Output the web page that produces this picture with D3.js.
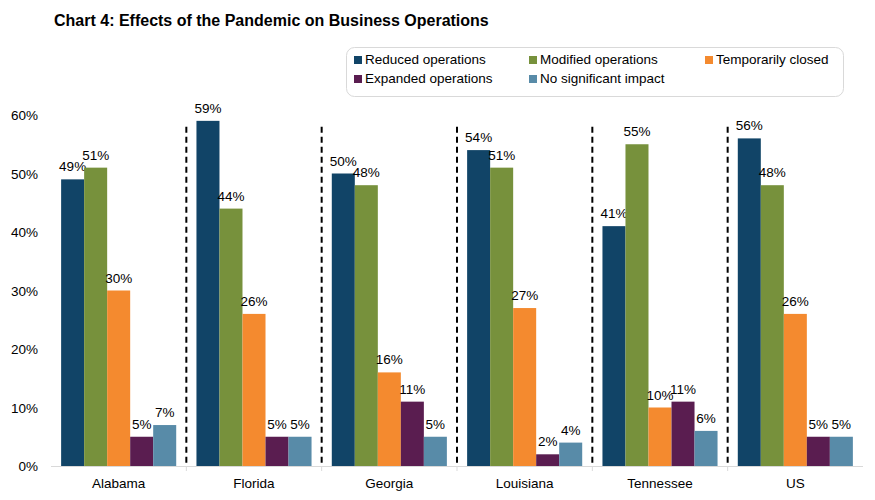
<!DOCTYPE html>
<html><head><meta charset="utf-8">
<script src="https://cdn.jsdelivr.net/npm/d3@7"></script>
<style>body{margin:0;background:#fff;}svg{font-family:Arial,"Liberation Sans",sans-serif;}</style>
</head><body><svg id="c" width="875" height="500"></svg>
<script>
const categories = ["Alabama","Florida","Georgia","Louisiana","Tennessee","US"];
const seriesNames = ["Reduced operations","Modified operations","Temporarily closed","Expanded operations","No significant impact"];
const reduced   = [49,59,50,54,41,56];
const modified  = [51,44,48,51,55,48];
const closed    = [30,26,16,27,10,26];
const expanded  = [5,5,11,2,11,5];
const noImpact  = [7,5,5,4,6,5];
const yTicks = [0,10,20,30,40,50,60];
const colors = ["#114467","#77913c","#f48a2f","#5a1d50","#588ba8"];
const seriesValues = [reduced, modified, closed, expanded, noImpact];

const svg = d3.select("#c");
const x = d3.scaleBand().domain(categories).range([51,863]).paddingInner(0).paddingOuter(0);
const xs = d3.scaleBand().domain(seriesNames).range([0, x.bandwidth()]).paddingOuter(0.44);
const y = d3.scaleLinear().domain([0,60]).range([466,115]);

svg.append("text").attr("x",54).attr("y",26).attr("font-size",16).attr("font-weight","bold").attr("fill","#000")
  .text("Chart 4: Effects of the Pandemic on Business Operations");

// y tick labels
svg.selectAll(".yt").data(yTicks).enter().append("text")
  .attr("x",38).attr("y",d=>y(d)+5).attr("text-anchor","end").attr("font-size",13.5).attr("fill","#000")
  .text(d=>d+"%");

// axis line
svg.append("line").attr("x1",x.range()[0]).attr("x2",x.range()[1]).attr("y1",y(0)+0.5).attr("y2",y(0)+0.5)
  .attr("stroke","#d9d9d9").attr("stroke-width",1);
// small ticks at boundaries
const bounds = categories.slice(1).map(c=>x(c));
svg.selectAll(".xt").data(bounds).enter().append("line")
  .attr("x1",d=>d).attr("x2",d=>d).attr("y1",y(0)).attr("y2",y(0)+5).attr("stroke","#d9d9d9");

// dashed separators
svg.selectAll(".sep").data(bounds).enter().append("line")
  .attr("x1",d=>d).attr("x2",d=>d).attr("y1",y(58)).attr("y2",y(0))
  .attr("stroke","#000").attr("stroke-width",2).attr("stroke-dasharray","6,4");

// bars
const g = svg.selectAll(".grp").data(categories).enter().append("g").attr("transform",c=>`translate(${x(c)},0)`);
seriesNames.forEach((s,si)=>{
  g.append("rect").attr("x",xs(s)).attr("width",xs.bandwidth())
    .attr("y",(c,ci)=>y(seriesValues[si][ci])).attr("height",(c,ci)=>y(0)-y(seriesValues[si][ci]))
    .attr("fill",colors[si]);
  g.append("text").attr("x",xs(s)+xs.bandwidth()/2).attr("y",(c,ci)=>y(seriesValues[si][ci])-8)
    .attr("text-anchor","middle").attr("font-size",13.5).attr("fill","#000")
    .text((c,ci)=>seriesValues[si][ci]+"%");
});

// category labels
svg.selectAll(".cl").data(categories).enter().append("text")
  .attr("x",c=>x(c)+x.bandwidth()/2).attr("y",488).attr("text-anchor","middle").attr("font-size",13.5).attr("fill","#000")
  .text(c=>c);

// legend
svg.append("rect").attr("x",346.5).attr("y",47.5).attr("width",497).attr("height",49).attr("rx",8)
  .attr("fill","#fff").attr("stroke","#d9d9d9");
const legPos = [[354,64],[529,64],[705,64],[354,83],[529,83]];
seriesNames.forEach((s,i)=>{
  const [lx,ly] = legPos[i];
  svg.append("rect").attr("x",lx).attr("y",ly-8).attr("width",8).attr("height",8).attr("fill",colors[i]);
  svg.append("text").attr("x",lx+11).attr("y",ly).attr("font-size",13.5).attr("fill","#000").text(s);
});
</script></body></html>
